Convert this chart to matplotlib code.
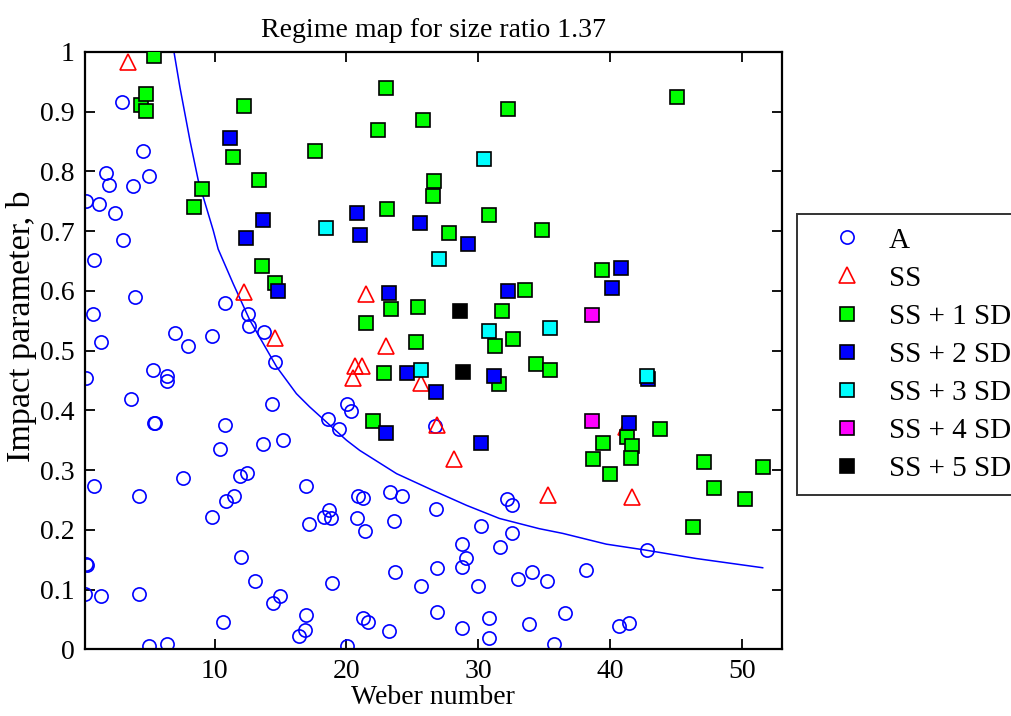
import numpy as np
import matplotlib
matplotlib.use("Agg")
from matplotlib import pyplot as plt
from matplotlib.ticker import FormatStrFormatter

plt.rcParams['font.family'] = 'serif'
plt.rcParams['font.serif'] = ['Liberation Serif', 'DejaVu Serif']

# A: Kreise
a_x = [2.95, 4.57, 1.74, 1.99, 3.81, 5.02, 0.25, 1.26, 2.47, 3.08,
       0.86, 3.94, 0.76, 1.36, 0.25, 6.99, 7.95, 9.80, 10.76, 12.50, 12.62, 13.71, 14.59,
       5.30, 6.36, 6.36, 3.66, 14.32, 5.40, 5.50, 10.76, 13.68, 15.15, 10.40,
       0.88, 4.29, 7.60, 9.80, 10.86, 11.50, 11.89, 12.42, 16.90, 17.17, 0.27, 0.29,
       0.15, 1.36, 4.29, 11.99, 13.10, 14.44, 14.95, 10.63, 5.05, 6.39, 16.92, 16.84, 16.39,
       20.88, 21.26, 23.33, 24.21, 18.68, 18.28, 18.86, 20.78, 21.39, 23.60, 26.77,
       28.73, 29.09, 28.73, 30.17, 32.52, 32.14, 32.52, 31.67, 23.71, 26.89, 25.65,
       29.95, 33.00, 34.09, 18.94, 21.23, 21.64, 23.23, 20.05, 26.89, 28.73, 30.80,
       30.80, 33.83, 35.20, 38.13, 36.54, 35.70, 40.65, 41.40, 42.77,
       20.07, 20.33, 18.60, 19.44, 26.69]
a_y = [0.916, 0.835, 0.797, 0.778, 0.775, 0.792, 0.751, 0.746, 0.730, 0.686,
       0.651, 0.589, 0.562, 0.514, 0.454, 0.529, 0.507, 0.524, 0.579, 0.562, 0.541, 0.531, 0.481,
       0.468, 0.457, 0.449, 0.419, 0.411, 0.379, 0.379, 0.376, 0.344, 0.351, 0.336,
       0.273, 0.257, 0.286, 0.222, 0.249, 0.257, 0.290, 0.295, 0.273, 0.209, 0.143, 0.141,
       0.0925, 0.0896, 0.0925, 0.155, 0.114, 0.078, 0.090, 0.046, 0.006, 0.009, 0.057, 0.033, 0.022,
       0.257, 0.254, 0.2625, 0.257, 0.233, 0.222, 0.219, 0.219, 0.198, 0.214, 0.235,
       0.176, 0.152, 0.138, 0.206, 0.195, 0.251, 0.241, 0.1705, 0.130, 0.136, 0.106,
       0.106, 0.117, 0.130, 0.111, 0.052, 0.046, 0.031, 0.006, 0.063, 0.036, 0.052,
       0.019, 0.042, 0.114, 0.133, 0.060, 0.009, 0.039, 0.044, 0.166,
       0.411, 0.399, 0.385, 0.368, 0.374]

# SS: Dreiecke
ss_x = [3.45, 12.22, 14.55, 21.50, 23.00, 20.63, 21.14, 20.53, 25.68, 26.89, 28.13, 35.30, 41.67, 41.20]
ss_y = [0.984, 0.598, 0.521, 0.595, 0.507, 0.474, 0.474, 0.454, 0.445, 0.375, 0.318, 0.259, 0.255, 0.372]

# SS + 1 SD
sd1_x = [5.40, 4.39, 4.80, 4.80, 12.22, 11.39, 17.62, 13.36, 9.06, 8.45, 13.58, 14.55,
         22.98, 32.27, 25.80, 22.39, 26.64, 26.54, 23.10, 30.80, 27.75, 34.85, 45.10,
         23.38, 25.43, 33.50, 31.80, 32.62, 31.29, 21.50, 25.30, 22.88, 31.56, 21.99,
         39.36, 34.34, 35.45, 43.74, 39.47, 41.29, 41.67, 41.54, 38.70, 39.95, 47.14,
         47.90, 50.23, 51.56, 46.30]
sd1_y = [0.994, 0.912, 0.930, 0.902, 0.910, 0.824, 0.835, 0.786, 0.770, 0.740, 0.641, 0.614,
         0.940, 0.905, 0.886, 0.870, 0.784, 0.759, 0.737, 0.727, 0.697, 0.702, 0.924,
         0.570, 0.573, 0.602, 0.567, 0.519, 0.508, 0.546, 0.514, 0.4625, 0.444, 0.383,
         0.635, 0.478, 0.4675, 0.368, 0.346, 0.355, 0.340, 0.321, 0.318, 0.293, 0.313,
         0.270, 0.251, 0.305, 0.205]

# SS + 2 SD
sd2_x = [11.16, 13.68, 12.35, 14.82, 20.80, 25.55, 21.03, 29.20, 23.23, 32.27,
         24.57, 26.77, 31.18, 23.00, 30.17, 40.83, 40.10, 42.90, 41.40]
sd2_y = [0.856, 0.719, 0.689, 0.600, 0.730, 0.713, 0.694, 0.679, 0.597, 0.600,
         0.4625, 0.430, 0.4575, 0.362, 0.346, 0.638, 0.605, 0.452, 0.378]

# SS + 3 SD
sd3_x = [30.45, 18.48, 27.02, 30.80, 25.68, 35.45, 42.77]
sd3_y = [0.821, 0.706, 0.654, 0.533, 0.4675, 0.538, 0.457]

# SS + 4 SD
sd4_x = [38.60, 38.60]
sd4_y = [0.560, 0.383]

# SS + 5 SD
sd5_x = [28.61, 28.86]
sd5_y = [0.567, 0.465]

# Grenzkurve
kurve_x = [6.92, 7.37, 8.13, 8.76, 9.90, 10.27, 11.41, 12.67, 14.70, 16.20, 17.20, 20.00,
           21.00, 23.80, 26.56, 29.10, 31.60, 34.60, 36.40, 39.70, 42.70, 46.50, 51.56]
kurve_y = [1.0, 0.941, 0.852, 0.785, 0.701, 0.670, 0.612, 0.551, 0.473, 0.428, 0.406, 0.350,
           0.333, 0.294, 0.266, 0.241, 0.219, 0.202, 0.194, 0.176, 0.166, 0.152, 0.1365]

# --- Plot
fs = 20
fig = plt.figure(figsize=(10.12, 7.16), dpi=100)
ax = fig.add_axes([0.0837, 0.0932, 0.6887, 0.8342])

ax.plot(kurve_x, kurve_y, color='#0000ff', lw=1.1, zorder=1)

ms = 9.5
ax.plot(a_x, a_y, 'o', mfc='none', mec='#0000ff', mew=1.2, ms=ms, label='A', zorder=2)
ax.plot(ss_x, ss_y, '^', mfc='none', mec='#ff0000', mew=1.2, ms=11, label='SS', zorder=3)
sq = dict(marker='s', ls='none', mec='black', mew=1.2, ms=ms)
ax.plot(sd1_x, sd1_y, mfc='#00ff00', label='SS + 1 SD', zorder=4, **sq)
ax.plot(sd2_x, sd2_y, mfc='#0000ff', label='SS + 2 SD', zorder=5, **sq)
ax.plot(sd3_x, sd3_y, mfc='#00ffff', label='SS + 3 SD', zorder=6, **sq)
ax.plot(sd4_x, sd4_y, mfc='#ff00ff', label='SS + 4 SD', zorder=7, **sq)
ax.plot(sd5_x, sd5_y, mfc='black', label='SS + 5 SD', zorder=8, **sq)

ax.set_xlim(0.15, 53)
ax.set_ylim(0, 1)
ax.set_xticks([10, 20, 30, 40, 50])
ax.set_yticks(np.arange(0, 1.01, 0.1))
ax.yaxis.set_major_formatter(FormatStrFormatter('%g'))
ax.tick_params(direction='in', top=True, right=True, length=7, width=1.3,
               labelsize=fs, pad=7)
for s in ax.spines.values():
    s.set_linewidth(1.6)

ax.set_xlabel('Weber number', fontsize=fs, labelpad=1)
ax.set_ylabel('Impact parameter, b', fontsize=24.5)
ax.yaxis.set_label_coords(-0.068, 0.54)
ax.set_title('Regime map for size ratio 1.37', fontsize=fs, pad=11)

leg = ax.legend(loc='upper left', bbox_to_anchor=(797 / 1012, 1 - 214 / 716),
                bbox_transform=fig.transFigure, borderaxespad=0, fontsize=21,
                numpoints=1, handlelength=2.5, handletextpad=0.2, labelspacing=0.4,
                borderpad=0.45, fancybox=False, frameon=True)
leg.get_frame().set_edgecolor('black')
leg.get_frame().set_linewidth(1.4)

fig.savefig('out.png', dpi=100)
